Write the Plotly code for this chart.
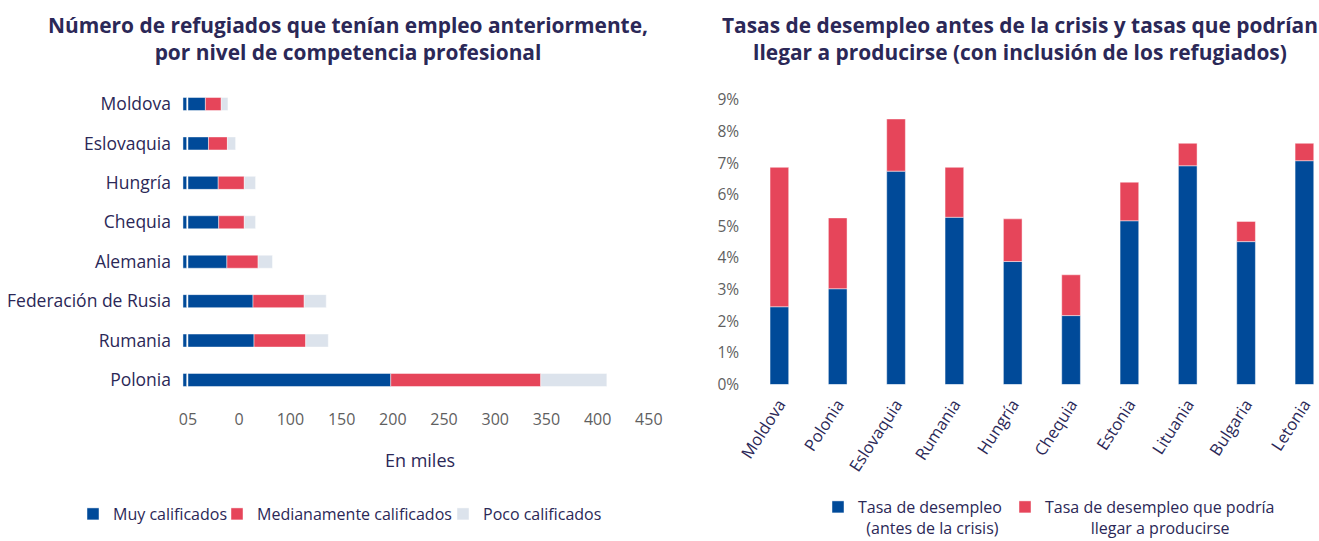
import plotly.graph_objects as go

# ---------------- Datos: gráfico izquierdo (miles de refugiados) ----------------
paises_izq = ["Moldova", "Eslovaquia", "Hungría", "Chequia", "Alemania",
              "Federación de Rusia", "Rumania", "Polonia"]
muy_calificados = [17, 20, 29.5, 30, 38, 63.5, 64.5, 198]
medianamente_calificados = [15.5, 18.5, 25.5, 25, 30.5, 50, 50.5, 146.5]
poco_calificados = [6.5, 8, 11, 11, 14, 21.5, 22, 64.5]
ticks_izq = [0, 50, 100, 150, 200, 250, 300, 350, 400, 450]
etiquetas_ticks_izq = ["05", "0", "100", "150", "200", "250", "300", "350", "400", "450"]

# ---------------- Datos: gráfico derecho (tasas de desempleo, %) ----------------
paises_der = ["Moldova", "Polonia", "Eslovaquia", "Rumania", "Hungría",
              "Chequia", "Estonia", "Lituania", "Bulgaria", "Letonia"]
tasa_antes = [2.46, 3.03, 6.75, 5.29, 3.89, 2.18, 5.18, 6.92, 4.52, 7.08]
tasa_posible = [6.87, 5.27, 8.40, 6.87, 5.24, 3.47, 6.40, 7.63, 5.16, 7.63]
ticks_der = [0, 1, 2, 3, 4, 5, 6, 7, 8, 9]
etiquetas_ticks_der = [f"{v}%" for v in ticks_der]

# ---------------- Estilos ----------------
AZUL = "#004A99"
ROJO = "#E6455A"
GRIS = "#DCE3EC"
TEXTO = "#2B2857"
TICK_GRIS = "#5F5F5F"
FUENTE = "Open Sans"
BORDE = dict(color="rgba(255,255,255,0.45)", width=1)
W, H = 1319, 541
MARGEN_INF = 60            # margen inferior fijo (reserva para las leyendas)
PH = H - MARGEN_INF        # alto del área de trazado


def px_x(p):
    return p / W


def px_y(p):
    # fracción del área de trazado para una posición en píxeles desde arriba
    return 1 - p / PH


def px_yc(p):
    # fracción del contenedor completo
    return 1 - p / H


fig = go.Figure()

# pequeña marca inicial de cada barra
fig.add_trace(go.Bar(
    y=paises_izq, x=[3.6] * len(paises_izq), base=[-4.9] * len(paises_izq),
    orientation="h", marker=dict(color=AZUL, line=BORDE), width=0.33,
    showlegend=False, hoverinfo="skip", xaxis="x", yaxis="y"))

base_med = [a for a in muy_calificados]
base_poco = [a + b for a, b in zip(muy_calificados, medianamente_calificados)]

fig.add_trace(go.Bar(
    y=paises_izq, x=muy_calificados, base=[0] * len(paises_izq), orientation="h",
    name="Muy calificados", marker=dict(color=AZUL, line=BORDE), width=0.33,
    xaxis="x", yaxis="y", legend="legend"))
fig.add_trace(go.Bar(
    y=paises_izq, x=medianamente_calificados, base=base_med, orientation="h",
    name="Medianamente calificados", marker=dict(color=ROJO, line=BORDE), width=0.33,
    xaxis="x", yaxis="y", legend="legend3"))
fig.add_trace(go.Bar(
    y=paises_izq, x=poco_calificados, base=base_poco, orientation="h",
    name="Poco calificados", marker=dict(color=GRIS, line=BORDE), width=0.33,
    xaxis="x", yaxis="y", legend="legend4"))

tasa_extra = [t - a for a, t in zip(tasa_antes, tasa_posible)]

fig.add_trace(go.Bar(
    x=paises_der, y=tasa_antes, base=[0] * len(paises_der),
    name="Tasa de desempleo<br>\u00a0\u00a0(antes de la crisis)",
    marker=dict(color=AZUL, line=BORDE), width=0.32,
    xaxis="x2", yaxis="y2", legend="legend2"))
fig.add_trace(go.Bar(
    x=paises_der, y=tasa_extra, base=tasa_antes,
    name="Tasa de desempleo que podría<br>" + "\u00a0" * 11 + "llegar a producirse",
    marker=dict(color=ROJO, line=BORDE), width=0.32,
    xaxis="x2", yaxis="y2", legend="legend5"))


def leyenda(x_px, y_px, yanchor="middle"):
    return dict(orientation="h", xref="container", yref="container",
                x=px_x(x_px), xanchor="left", y=px_yc(y_px),
                yanchor=yanchor, valign="top",
                font=dict(size=16, color=TEXTO, family=FUENTE),
                bgcolor="rgba(0,0,0,0)", itemclick=False, itemdoubleclick=False)


def titulo(texto, x_px, y_px):
    return dict(text="<b>" + texto + "</b>", x=px_x(x_px), y=px_y(y_px),
                xref="paper", yref="paper", xanchor="center", yanchor="middle",
                showarrow=False, font=dict(size=20.9, color=TEXTO, family=FUENTE))


fig.update_layout(
    width=W, height=H,
    template="none",
    paper_bgcolor="white", plot_bgcolor="white",
    margin=dict(l=0, r=0, t=0, b=MARGEN_INF, autoexpand=False),
    barmode="overlay",
    font=dict(family=FUENTE, color=TEXTO),
    xaxis=dict(
        domain=[px_x(180), px_x(660)], range=[-7.8, 460.9],
        tickvals=ticks_izq, ticktext=etiquetas_ticks_izq,
        tickfont=dict(size=16, color=TICK_GRIS), showgrid=False, zeroline=False,
        showline=False, ticks="", ticklabelstandoff=8,
        title=dict(text="En miles", font=dict(size=18, color=TEXTO), standoff=25),
        anchor="y", automargin=False),
    yaxis=dict(
        domain=[px_y(399.7), px_y(84.3)], autorange="reversed",
        tickfont=dict(size=17.5, color=TEXTO), showgrid=False, zeroline=False,
        showline=False, ticks="", ticklabelstandoff=8, anchor="x", automargin=False),
    xaxis2=dict(
        domain=[px_x(750.2), 1.0], range=[-0.5, 9.25],
        tickfont=dict(size=16.5, color=TEXTO), tickangle=-57,
        showgrid=False, zeroline=False, showline=False, ticks="",
        ticklabelstandoff=6, anchor="y2", automargin=False),
    yaxis2=dict(
        domain=[px_y(384.5), px_y(100)], range=[0, 9],
        tickvals=ticks_der, ticktext=etiquetas_ticks_der,
        tickfont=dict(size=15.5, color=TICK_GRIS), showgrid=False, zeroline=False,
        showline=False, ticks="", ticklabelstandoff=10, anchor="x2", automargin=False),
    legend=leyenda(73, 514),
    legend3=leyenda(217, 514),
    legend4=leyenda(443, 514),
    legend2=leyenda(818, 490, "top"),
    legend5=leyenda(1005, 490, "top"),
    annotations=[
        titulo("Número de refugiados que tenían empleo anteriormente,<br>por nivel de competencia profesional", 348, 38.5),
        titulo("Tasas de desempleo antes de la crisis y tasas que podrían<br>llegar a producirse (con inclusión de los refugiados)", 1020, 38.5),
    ],
)

fig.write_html(
    "out.html",
    config={"displayModeBar": False},
    post_script="document.body.style.margin='0';",
)
